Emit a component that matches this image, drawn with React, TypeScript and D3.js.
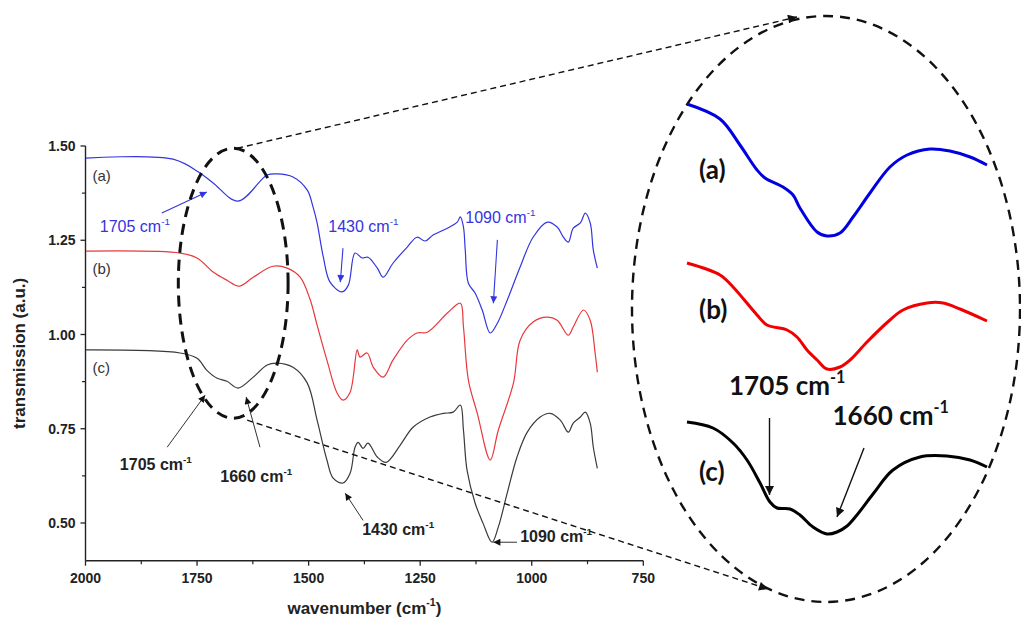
import React from 'react';
import * as d3 from 'd3';

// ---------- main spectra (wavenumber cm-1, transmission a.u.) ----------
const waveA = [1999,1804,1743,1714,1658,1593,1571,1535,1503,1490,1481,1467,1452,1425,1411,1396,1380,1367,1346,1333,1311,1279,1257,1239,1221,1189,1167,1160,1153,1149,1142,1127,1111,1093,1077,1055,1026,997,965,943,929,918,907,891,880,869,862,853];
const transA = [1.468,1.465,1.428,1.402,1.354,1.423,1.426,1.418,1.383,1.338,1.296,1.205,1.139,1.113,1.131,1.216,1.203,1.205,1.176,1.152,1.189,1.232,1.258,1.248,1.264,1.282,1.298,1.312,1.285,1.224,1.136,1.110,1.065,1.004,1.030,1.091,1.179,1.258,1.298,1.285,1.258,1.245,1.282,1.296,1.322,1.296,1.224,1.176];

const waveB = [1999,1788,1750,1714,1683,1656,1624,1580,1548,1519,1497,1481,1459,1436,1423,1407,1391,1385,1369,1355,1333,1311,1279,1257,1234,1189,1160,1153,1142,1122,1093,1075,1041,1026,997,965,943,918,907,884,869,858,853];
const transB = [1.221,1.216,1.203,1.166,1.144,1.128,1.152,1.181,1.176,1.152,1.094,1.025,0.932,0.844,0.826,0.847,0.959,0.940,0.951,0.913,0.887,0.932,0.985,1.004,1.006,1.057,1.083,1.020,0.879,0.791,0.667,0.746,0.871,0.985,1.033,1.046,1.038,0.998,1.020,1.065,1.038,0.951,0.900];

const waveC = [1999,1788,1750,1728,1705,1683,1658,1624,1593,1571,1535,1503,1481,1459,1445,1423,1407,1396,1389,1378,1367,1346,1326,1295,1266,1228,1198,1176,1160,1153,1145,1127,1109,1089,1075,1055,1033,1010,981,959,936,918,907,891,880,869,862,853];
const transC = [0.959,0.951,0.937,0.905,0.884,0.876,0.858,0.887,0.919,0.924,0.913,0.871,0.773,0.667,0.619,0.606,0.632,0.701,0.714,0.698,0.712,0.675,0.661,0.706,0.754,0.781,0.791,0.794,0.813,0.746,0.640,0.553,0.499,0.449,0.489,0.579,0.675,0.741,0.781,0.791,0.773,0.741,0.765,0.781,0.794,0.765,0.701,0.645];

// ---------- magnified inset (1760-1560 cm-1, relative a.u.) ----------
const insetWaveA = [1760,1738,1724.7,1713.3,1708,1696,1689.3,1684.7,1673.3,1666.7,1658,1649.3,1638,1624.7,1613.3,1598,1584.7,1571.3,1560];
const insetTransA = [4.96,4.81,4.55,4.30,4.22,4.13,4.05,3.92,3.68,3.64,3.67,3.83,4.07,4.33,4.45,4.51,4.49,4.43,4.35];
const insetWaveB = [1760,1738,1729.3,1713.3,1706.7,1693.3,1686.7,1680,1673.3,1666.7,1658,1651.3,1640,1624.7,1616,1600,1589.3,1578,1560];
const insetTransB = [3.37,3.25,3.13,2.85,2.75,2.70,2.63,2.50,2.40,2.31,2.33,2.40,2.58,2.80,2.90,2.97,2.97,2.91,2.79];
const insetWaveC = [1760,1742.7,1729.3,1720,1711.3,1704.7,1700,1691.3,1684.7,1676,1666.7,1660,1653.3,1646.7,1636,1622.7,1604.7,1586.7,1571.3,1560];
const insetTransC = [1.78,1.72,1.57,1.40,1.17,0.98,0.92,0.91,0.85,0.73,0.66,0.68,0.74,0.85,1.06,1.30,1.43,1.44,1.40,1.33];

// ---------- axes ----------
const xTicks = [2000, 1750, 1500, 1250, 1000, 750];
const xMinorTicks = [1875, 1625, 1375, 1125, 875];
const yTicks = [0.5, 0.75, 1.0, 1.25, 1.5];
const yMinorTicks = [0.625, 0.875, 1.125, 1.375];
const xTitle = 'wavenumber (cm';
const yTitle = 'transmission (a.u.)';
const curveLabels = ['(a)', '(b)', '(c)'];

const W = 1021, H = 621;
const x = d3.scaleLinear().domain([2000, 750]).range([85.5, 643.3]);
const y = d3.scaleLinear().domain([0.4, 1.5]).range([560.7, 146]);
const ix = d3.scaleLinear().domain([1760, 1560]).range([687, 987]);
const iy = d3.scaleLinear().domain([0, 6]).range([600, 0]);

const BLUE = '#3434e0';
const RED = '#e8383c';
const GREY = '#3a3a3a';
const TXT = '#222';

function pts(w: number[], t: number[]) { return w.map((d, i) => [d, t[i]] as [number, number]); }

const mainLine = d3.line<[number, number]>().x(d => x(d[0])).y(d => y(d[1])).curve(d3.curveCatmullRom.alpha(0.5));
const insetLine = d3.line<[number, number]>().x(d => ix(d[0])).y(d => iy(d[1])).curve(d3.curveCatmullRom.alpha(0.5));

const Sup = ({ size }: { size: number }) => (
  <tspan dy={-size * 0.45} fontSize={size * 0.62}>-1</tspan>
);

// annotations in data coordinates: [labelW, labelV, tailW, tailV, tipW, tipV]
const blueNotes: [string, number, number, number, number, number, number][] = [
  ['1705', 1968, 1.272, 1829, 1.322, 1728, 1.378],
  ['1430', 1456, 1.272, 1423, 1.229, 1429, 1.139],
  ['1090', 1149, 1.296, 1077, 1.251, 1086, 1.083],
];
const blackNotes: [string, number, number, number, number, number, number][] = [
  ['1705', 1923, 0.640, 1817, 0.701, 1732, 0.839],
  ['1660', 1698, 0.608, 1609, 0.701, 1640, 0.834],
  ['1430', 1380, 0.468, 1378, 0.507, 1418, 0.579],
  ['1090', 1026, 0.449, 1033, 0.449, 1086, 0.449],
];

export default function App() {
  const font = 'Arial, "Liberation Sans", sans-serif';
  const insetFont = 'Lato, "Open Sans", sans-serif';
  const ellC: [number, number] = [1669, 1.136];
  const ellRx = Math.abs(x(ellC[0] + 123) - x(ellC[0]));
  const ellRy = Math.abs(y(ellC[1] + 0.358) - y(ellC[1]));
  const ecx = x(ellC[0]), ecy = y(ellC[1]);
  return (
    <svg width={W} height={H} style={{ position: 'absolute', left: 0, top: 0, background: '#fff' }} fontFamily={font}>
      <defs>
        <marker id="arrK" viewBox="0 0 10 10" refX="10" refY="5" markerWidth="8" markerHeight="7" markerUnits="userSpaceOnUse" orient="auto">
          <path d="M0,0 L10,5 L0,10 z" fill="#111" />
        </marker>
        <marker id="arrB" viewBox="0 0 10 10" refX="10" refY="5" markerWidth="8" markerHeight="7" markerUnits="userSpaceOnUse" orient="auto">
          <path d="M0,0 L10,5 L0,10 z" fill={BLUE} />
        </marker>
        <marker id="arrD" viewBox="0 0 10 10" refX="10" refY="5" markerWidth="12" markerHeight="9" markerUnits="userSpaceOnUse" orient="auto">
          <path d="M0,0 L10,5 L0,10 z" fill="#111" />
        </marker>
        <marker id="arrI" viewBox="0 0 10 10" refX="10" refY="5" markerWidth="11" markerHeight="9" markerUnits="userSpaceOnUse" orient="auto">
          <path d="M0,0 L10,5 L0,10 z" fill="#111" />
        </marker>
      </defs>

      {/* axes */}
      <line x1={x(2000)} x2={x(2000)} y1={y(1.5)} y2={y(0.4)} stroke="#222" strokeWidth={1.4} />
      <line x1={x(2000)} x2={x(750)} y1={y(0.4)} y2={y(0.4)} stroke="#222" strokeWidth={1.4} />
      {xTicks.map(t => (
        <g key={'xt' + t}>
          <line x1={x(t)} x2={x(t)} y1={y(0.4)} y2={y(0.4) + 5} stroke="#222" strokeWidth={1.3} />
          <text x={x(t)} y={583} textAnchor="middle" fontSize={14} fontWeight="bold" fill={TXT}>{t}</text>
        </g>
      ))}
      {xMinorTicks.map(t => (
        <line key={'xm' + t} x1={x(t)} x2={x(t)} y1={y(0.4)} y2={y(0.4) + 3.5} stroke="#222" strokeWidth={1.2} />
      ))}
      {yTicks.map(t => (
        <g key={'yt' + t}>
          <line x1={x(2000) - 5} x2={x(2000)} y1={y(t)} y2={y(t)} stroke="#222" strokeWidth={1.3} />
          <text x={x(2000) - 10} y={y(t) + 5} textAnchor="end" fontSize={14} fontWeight="bold" fill={TXT}>{t.toFixed(2)}</text>
        </g>
      ))}
      {yMinorTicks.map(t => (
        <line key={'ym' + t} x1={x(2000) - 3.5} x2={x(2000)} y1={y(t)} y2={y(t)} stroke="#222" strokeWidth={1.2} />
      ))}
      <text x={(x(2000) + x(750)) / 2} y={614} textAnchor="middle" fontSize={17} fontWeight="bold" fill={TXT}>
        {xTitle}<Sup size={17} /><tspan dy={17 * 0.45}>)</tspan>
      </text>
      <text transform={`translate(25,${(y(1.5) + y(0.4)) / 2}) rotate(-90)`} textAnchor="middle" fontSize={17} fontWeight="bold" fill={TXT}>{yTitle}</text>

      {/* spectra */}
      <path d={mainLine(pts(waveA, transA)) || ''} fill="none" stroke={BLUE} strokeWidth={1.2} />
      <path d={mainLine(pts(waveB, transB)) || ''} fill="none" stroke={RED} strokeWidth={1.2} />
      <path d={mainLine(pts(waveC, transC)) || ''} fill="none" stroke={GREY} strokeWidth={1.2} />

      {/* (a) (b) (c) */}
      {[transA[0], transB[0], transC[0]].map((v, i) => (
        <text key={'lab' + i} x={x(2000) + 7} y={y(v) + 23} fontSize={15} fill="#333">{curveLabels[i]}</text>
      ))}

      {/* blue annotations */}
      {blueNotes.map(n => (
        <g key={'bn' + n[0]}>
          <text x={x(n[1])} y={y(n[2])} fontSize={16} fill={BLUE}>{n[0]} cm<Sup size={16} /></text>
          <line x1={x(n[3])} y1={y(n[4])} x2={x(n[5])} y2={y(n[6])} stroke={BLUE} strokeWidth={1.1} markerEnd="url(#arrB)" />
        </g>
      ))}
      {/* black annotations */}
      {blackNotes.map(n => (
        <g key={'kn' + n[0]}>
          <text x={x(n[1])} y={y(n[2])} fontSize={16} fontWeight="bold" fill={TXT}>{n[0]} cm<Sup size={16} /></text>
          <line x1={x(n[3])} y1={y(n[4])} x2={x(n[5])} y2={y(n[6])} stroke="#333" strokeWidth={1} markerEnd="url(#arrK)" />
        </g>
      ))}

      {/* magnifier ellipse and connectors */}
      <ellipse cx={ecx} cy={ecy} rx={ellRx} ry={ellRy} fill="none" stroke="#111" strokeWidth={3} strokeDasharray="11 7" />
      <line x1={ecx + 4} y1={ecy - ellRy} x2={797} y2={17} stroke="#111" strokeWidth={1.4} strokeDasharray="6 4" markerEnd="url(#arrD)" />
      <line x1={ecx + 14} y1={ecy + ellRy + 2} x2={768} y2={589} stroke="#111" strokeWidth={1.4} strokeDasharray="6 4" markerEnd="url(#arrD)" />
      <ellipse cx={826} cy={309} rx={194} ry={293} fill="none" stroke="#111" strokeWidth={2.4} strokeDasharray="10 7" />

      {/* inset curves */}
      <path d={insetLine(pts(insetWaveA, insetTransA)) || ''} fill="none" stroke="#0000e0" strokeWidth={3} />
      <path d={insetLine(pts(insetWaveB, insetTransB)) || ''} fill="none" stroke="#f00000" strokeWidth={3} />
      <path d={insetLine(pts(insetWaveC, insetTransC)) || ''} fill="none" stroke="#000" strokeWidth={3} />
      {[4.30, 2.90, 1.28].map((v, i) => (
        <text key={'il' + i} x={ix(1752)} y={iy(v) + 9} fontSize={26} fontWeight="bold" fontFamily={insetFont} fill="#111">{curveLabels[i]}</text>
      ))}
      <text x={ix(1732)} y={iy(2.05)} fontSize={26} fontWeight="bold" fontFamily={insetFont} fill="#111">1705 cm<Sup size={26} /></text>
      <text x={ix(1663)} y={iy(1.75)} fontSize={26} fontWeight="bold" fontFamily={insetFont} fill="#111">1660 cm<Sup size={26} /></text>
      <line x1={ix(1705)} y1={iy(1.82)} x2={ix(1705)} y2={iy(1.05)} stroke="#111" strokeWidth={1.4} markerEnd="url(#arrI)" />
      <line x1={ix(1642)} y1={iy(1.52)} x2={ix(1660)} y2={iy(0.83)} stroke="#111" strokeWidth={1.4} markerEnd="url(#arrI)" />
    </svg>
  );
}
